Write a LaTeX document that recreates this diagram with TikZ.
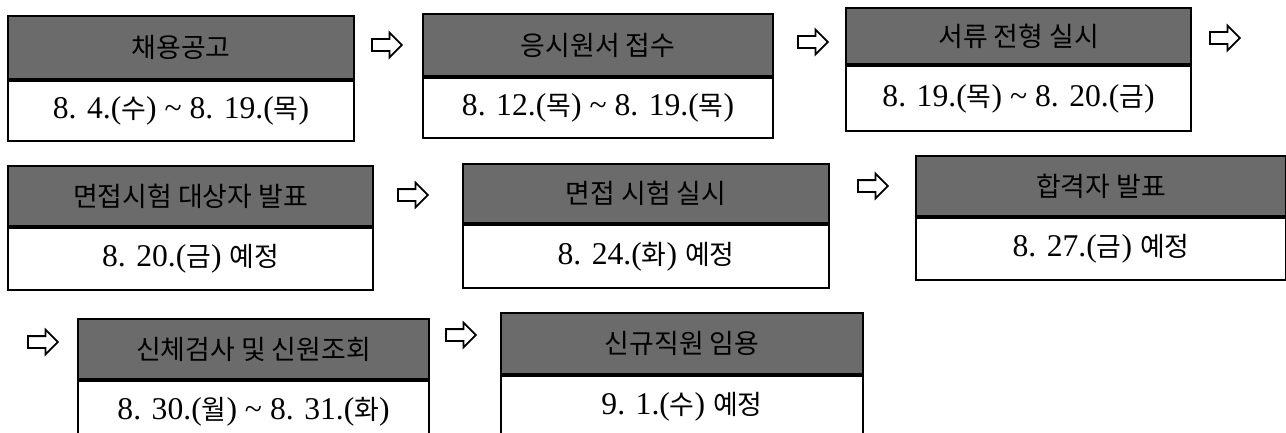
\documentclass[tikz,border=0pt]{standalone}
\usepackage{fontspec}
\setmainfont{Liberation Serif}
\newfontfamily\kr[Scale=0.85]{Noto Sans CJK KR}
\usetikzlibrary{shapes.arrows}
\tikzset{
    hdr/.style={draw, line width=1.2pt, fill=black!58, anchor=north west, inner sep=0pt,
        font=\kr\fontsize{18}{21}\selectfont},
    day/.style={draw, line width=1pt, fill=white, anchor=north, inner sep=0pt,
        font=\fontsize{18}{21}\selectfont},
    nxt/.style={draw, line width=1pt, single arrow, single arrow head extend=0.13cm,
        minimum height=0.6cm, inner sep=0.1cm},
}

\begin{document}
\begin{tikzpicture}
    \useasboundingbox (0,0) rectangle (25.72,-8.66);
    \clip (0,0) rectangle (25.72,-8.66);
    \node[hdr, minimum width=6.92cm, minimum height=1.26cm] (h1) at (0.14,-0.30) {채용공고};
    \node[day, minimum width=6.92cm, minimum height=1.2cm] (d1) at (h1.south) {8. 4.({\kr 수}) \textasciitilde{} 8. 19.({\kr 목})};
    \node[hdr, minimum width=7.0cm, minimum height=1.24cm] (h2) at (8.44,-0.26) {응시원서 접수};
    \node[day, minimum width=7.0cm, minimum height=1.2cm] (d2) at (h2.south) {8. 12.({\kr 목}) \textasciitilde{} 8. 19.({\kr 목})};
    \node[hdr, minimum width=6.9cm, minimum height=1.12cm] (h3) at (16.9,-0.14) {서류 전형 실시};
    \node[day, minimum width=6.9cm, minimum height=1.3cm] (d3) at (h3.south) {8. 19.({\kr 목}) \textasciitilde{} 8. 20.({\kr 금})};
    \node[hdr, minimum width=7.3cm, minimum height=1.2cm] (h4) at (0.14,-3.30) {면접시험 대상자 발표};
    \node[day, minimum width=7.3cm, minimum height=1.24cm] (d4) at (h4.south) {8. 20.({\kr 금}) {\kr 예정}};
    \node[hdr, minimum width=7.32cm, minimum height=1.18cm] (h5) at (9.24,-3.26) {면접 시험 실시};
    \node[day, minimum width=7.32cm, minimum height=1.26cm] (d5) at (h5.south) {8. 24.({\kr 화}) {\kr 예정}};
    \node[hdr, minimum width=7.4cm, minimum height=1.2cm] (h6) at (18.3,-3.10) {합격자 발표};
    \node[day, minimum width=7.4cm, minimum height=1.24cm] (d6) at (h6.south) {8. 27.({\kr 금}) {\kr 예정}};
    \node[hdr, minimum width=7.02cm, minimum height=1.2cm] (h7) at (1.54,-6.36) {신체검사 및 신원조회};
    \node[day, minimum width=7.02cm, minimum height=1.24cm] (d7) at (h7.south) {8. 30.({\kr 월}) \textasciitilde{} 8. 31.({\kr 화})};
    \node[hdr, minimum width=7.24cm, minimum height=1.22cm] (h8) at (10.0,-6.24) {신규직원 임용};
    \node[day, minimum width=7.24cm, minimum height=1.24cm] (d8) at (h8.south) {9. 1.({\kr 수}) {\kr 예정}};
    \node[nxt] (a1) at (7.68,-0.90) {};
    \node[nxt] (a2) at (16.2,-0.84) {};
    \node[nxt] (a3) at (24.44,-0.76) {};
    \node[nxt] (a4) at (8.2,-3.90) {};
    \node[nxt] (a5) at (17.4,-3.72) {};
    \node[nxt] (a6) at (0.8,-6.84) {};
    \node[nxt] (a7) at (9.16,-6.70) {};
\end{tikzpicture}
\end{document}
